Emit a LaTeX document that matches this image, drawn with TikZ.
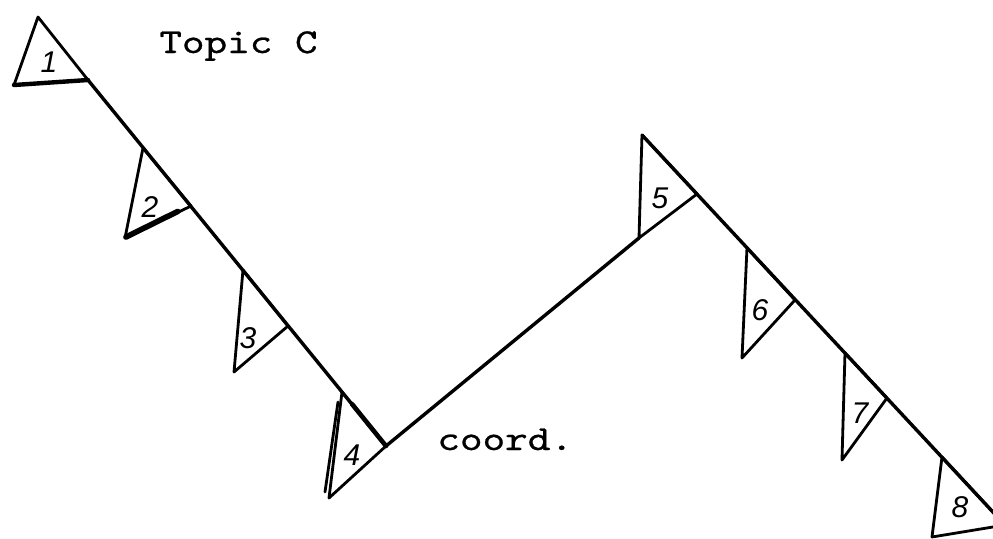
\documentclass[tikz,border=0pt]{standalone}
\usepackage{fontspec}
\newfontfamily\typefont{lmmono10-regular.otf}[FakeStretch=1.23,FakeBold=0.7]
\newfontfamily\handfont{Liberation Sans}
\usetikzlibrary{calc}
\begin{document}
\begin{tikzpicture}[x=0.5pt,y=-0.5pt,
  mainline/.style={line width=1.7pt,line cap=round,line join=round},
  flag/.style={line width=1.4pt,line join=round,line cap=round},
  heavy/.style={line width=2.8pt,line cap=round},
  typed/.style={font=\typefont\fontsize{17.5}{21}\selectfont,inner sep=0pt,anchor=base west},
  digit/.style={font=\handfont\itshape\fontsize{15}{17}\selectfont,inner sep=0pt}]
\useasboundingbox (0,0) rectangle (993,538);
\begin{scope}
\clip (0,0) rectangle (993,538);
% corners of the flags (apex, lower left, right)
\coordinate (A1) at (38,17);   \coordinate (L1) at (14,85);   \coordinate (R1) at (88,80);
\coordinate (A2) at (143,148); \coordinate (L2) at (125,238); \coordinate (R2) at (191,206);
\coordinate (A3) at (243,270); \coordinate (L3) at (234,372); \coordinate (R3) at (288,326);
\coordinate (A4) at (342,392); \coordinate (L4) at (329,498); \coordinate (R4) at (386,446);
\coordinate (A5) at (642,135); \coordinate (L5) at (639,238); \coordinate (R5) at (697,194);
\coordinate (A6) at (747,248); \coordinate (L6) at (742,358); \coordinate (R6) at (795,300);
\coordinate (A7) at (845,353); \coordinate (L7) at (842,460); \coordinate (R7) at (887,398);
\coordinate (A8) at (942,457); \coordinate (L8) at (932,537); \coordinate (R8) at (1005,525);
\coordinate (M4) at (352,404);
% main line
\draw[mainline] (R1) -- (R4) -- (L5);
\draw[mainline] (A5) -- (R8);
\draw[line width=2.3pt,line cap=round] (M4) -- (R4);
% flags
\foreach \i in {1,...,8}{
  \draw[flag] (A\i) -- (L\i) -- (R\i) -- cycle;
}
\draw[line width=2.2pt,line cap=round] (L1) -- (R1);
\draw[heavy] ($(L2)+(1,-1)$) -- ($(L2)!0.8!(R2)+(0,-1)$);
\draw[flag] ($(A4)+(-4,10)$) -- ($(L4)+(-4,-6)$);
% labels
\node[digit] (n1) at (49,62) {1};
\node[digit] (n2) at (150,207) {2};
\node[digit] (n3) at (248,338) {3};
\node[digit] (n4) at (352,455) {4};
\node[digit] (n5) at (660,198) {5};
\node[digit] (n6) at (760,310) {6};
\node[digit] (n7) at (860,413) {7};
\node[digit] (n8) at (960,507) {8};
\end{scope}
\node[typed] (topic) at (159,53) {Topic C};
\node[typed] (coord) at (437,450) {coord.};
\end{tikzpicture}
\end{document}
